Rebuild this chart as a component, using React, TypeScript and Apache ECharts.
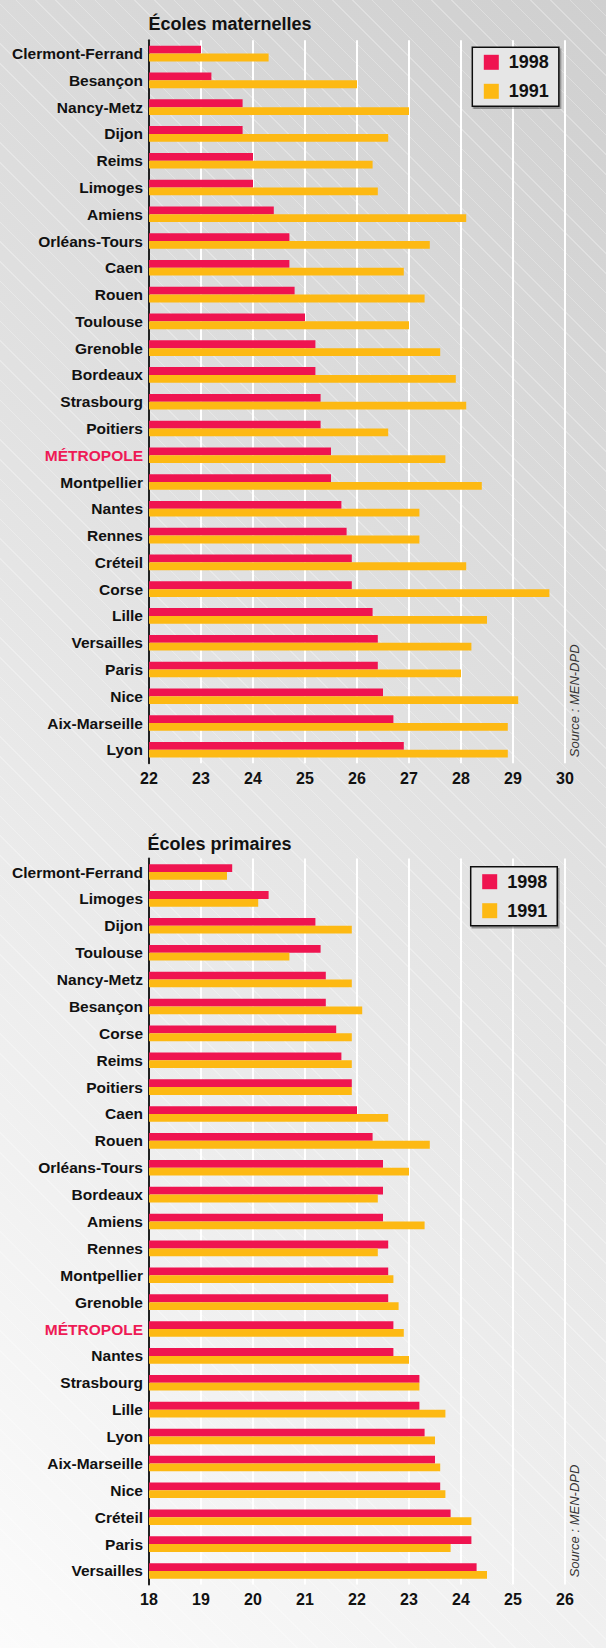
import React, { useEffect, useRef } from "react";
import * as echarts from "echarts";

const FONT = "'Liberation Sans', Arial, Helvetica, sans-serif";
const RED = "#ef1450";
const YELLOW = "#fdb913";

// Écoles maternelles
const matCategories = [
  "Clermont-Ferrand", "Besançon", "Nancy-Metz", "Dijon", "Reims", "Limoges", "Amiens",
  "Orléans-Tours", "Caen", "Rouen", "Toulouse", "Grenoble", "Bordeaux", "Strasbourg",
  "Poitiers", "MÉTROPOLE", "Montpellier", "Nantes", "Rennes", "Créteil", "Corse", "Lille",
  "Versailles", "Paris", "Nice", "Aix-Marseille", "Lyon",
];
const mat1998 = [
  23.0, 23.2, 23.8, 23.8, 24.0, 24.0, 24.4, 24.7, 24.7, 24.8, 25.0, 25.2, 25.2, 25.3,
  25.3, 25.5, 25.5, 25.7, 25.8, 25.9, 25.9, 26.3, 26.4, 26.4, 26.5, 26.7, 26.9,
];
const mat1991 = [
  24.3, 26.0, 27.0, 26.6, 26.3, 26.4, 28.1, 27.4, 26.9, 27.3, 27.0, 27.6, 27.9, 28.1,
  26.6, 27.7, 28.4, 27.2, 27.2, 28.1, 29.7, 28.5, 28.2, 28.0, 29.1, 28.9, 28.9,
];

// Écoles primaires
const priCategories = [
  "Clermont-Ferrand", "Limoges", "Dijon", "Toulouse", "Nancy-Metz", "Besançon", "Corse",
  "Reims", "Poitiers", "Caen", "Rouen", "Orléans-Tours", "Bordeaux", "Amiens", "Rennes",
  "Montpellier", "Grenoble", "MÉTROPOLE", "Nantes", "Strasbourg", "Lille", "Lyon",
  "Aix-Marseille", "Nice", "Créteil", "Paris", "Versailles",
];
const pri1998 = [
  19.6, 20.3, 21.2, 21.3, 21.4, 21.4, 21.6, 21.7, 21.9, 22.0, 22.3, 22.5, 22.5, 22.5,
  22.6, 22.6, 22.6, 22.7, 22.7, 23.2, 23.2, 23.3, 23.5, 23.6, 23.8, 24.2, 24.3,
];
const pri1991 = [
  19.5, 20.1, 21.9, 20.7, 21.9, 22.1, 21.9, 21.9, 21.9, 22.6, 23.4, 23.0, 22.4, 23.3,
  22.4, 22.7, 22.8, 22.9, 23.0, 23.2, 23.7, 23.5, 23.6, 23.7, 24.2, 23.8, 24.5,
];

const titles = ["Écoles maternelles", "Écoles primaires"];
const yearNames = ["1998", "1991"];
const xRanges = [
  [22, 30],
  [18, 26],
];
const sourceText = "Source : MEN-DPD";

function catData(cats: string[]) {
  return cats.map((c) =>
    c === "MÉTROPOLE" ? { value: c, textStyle: { color: "#ee1a55" } } : c
  );
}

export default function App() {
  const ref = useRef<HTMLDivElement>(null);

  useEffect(() => {
    if (!ref.current) return;
    const chart = echarts.init(ref.current, undefined, { renderer: "svg" });

    const grids = [
      { left: 149, top: 40.2, width: 416, height: 723 },
      { left: 149, top: 858.6, width: 416, height: 725.8 },
    ];

    const xAxis = [0, 1].map((i) => ({
      gridIndex: i,
      type: "value",
      min: xRanges[i][0],
      max: xRanges[i][1],
      interval: 1,
      axisLine: { show: false },
      axisTick: { show: false },
      splitLine: { show: true, lineStyle: { color: "#ffffff", width: 2 } },
      axisLabel: {
        margin: 7,
        fontSize: 16,
        fontWeight: "bold",
        color: "#111",
        fontFamily: FONT,
      },
    }));

    const yAxis = [matCategories, priCategories].map((cats, i) => ({
      gridIndex: i,
      type: "category",
      inverse: true,
      data: catData(cats),
      axisLine: { show: true, lineStyle: { color: "#222", width: 2 } },
      axisTick: { show: false },
      splitLine: { show: false },
      axisLabel: {
        margin: 6,
        fontSize: 15.5,
        fontWeight: "bold",
        color: "#111",
        fontFamily: FONT,
        padding: [0, 0, 3, 0],
      },
    }));

    const mk = (name: string, data: number[], idx: number, color: string) => ({
      type: "bar",
      name,
      xAxisIndex: idx,
      yAxisIndex: idx,
      data,
      barWidth: 7.8,
      barGap: "0%",
      itemStyle: { color },
    });

    const series = [
      mk(yearNames[0], mat1998, 0, RED),
      mk(yearNames[1], mat1991, 0, YELLOW),
      mk(yearNames[0], pri1998, 1, RED),
      mk(yearNames[1], pri1991, 1, YELLOW),
    ];

    const legendBase = {
      orient: "vertical",
      data: yearNames,
      icon: "rect",
      itemWidth: 15,
      itemHeight: 15,
      itemGap: 11,
      padding: [6, 10, 6, 11.5],
      backgroundColor: "#e6e6e6",
      borderColor: "#111",
      borderWidth: 1.5,
      shadowColor: "rgba(0,0,0,0.35)",
      shadowOffsetX: 1.5,
      shadowOffsetY: 2,
      shadowBlur: 1,
      selectedMode: false,
      textStyle: {
        fontSize: 18,
        fontWeight: "bold",
        color: "#111",
        fontFamily: FONT,
        padding: [0, 0, 0, 5],
      },
    };

    const option: any = {
      animation: false,
      grid: grids,
      xAxis,
      yAxis,
      series,
      legend: [
        { ...legendBase, left: 472.3, top: 47.3 },
        { ...legendBase, left: 470.7, top: 866.7 },
      ],
      graphic: [
        {
          type: "text",
          x: 148.5,
          y: 24,
          style: {
            text: titles[0],
            fill: "#111",
            fontSize: 18,
            fontWeight: "bold",
            fontFamily: FONT,
            textAlign: "left",
            textVerticalAlign: "middle",
          },
        },
        {
          type: "text",
          x: 147.5,
          y: 843.8,
          style: {
            text: titles[1],
            fill: "#111",
            fontSize: 18,
            fontWeight: "bold",
            fontFamily: FONT,
            textAlign: "left",
            textVerticalAlign: "middle",
          },
        },
        {
          type: "text",
          x: 574.7,
          y: 700.8,
          rotation: Math.PI / 2,
          style: {
            text: sourceText,
            fill: "#333",
            fontSize: 13,
            fontStyle: "italic",
            fontFamily: FONT,
            textAlign: "center",
            textVerticalAlign: "middle",
          },
        },
        {
          type: "text",
          x: 574.7,
          y: 1521,
          rotation: Math.PI / 2,
          style: {
            text: sourceText,
            fill: "#333",
            fontSize: 13,
            fontStyle: "italic",
            fontFamily: FONT,
            textAlign: "center",
            textVerticalAlign: "middle",
          },
        },
      ],
    };

    chart.setOption(option);
    return () => chart.dispose();
  }, []);

  return (
    <div
      style={{
        position: "absolute",
        left: 0,
        top: 0,
        width: 606,
        height: 1648,
        overflow: "hidden",
        background:
          "repeating-linear-gradient(45deg, rgba(255,255,255,0.28) 0px, rgba(255,255,255,0.28) 1px, rgba(255,255,255,0) 1px, rgba(255,255,255,0) 14px), linear-gradient(222deg, #cfcfcf 0%, #fbfbfb 100%)",
      }}
    >
      <div ref={ref} style={{ width: 606, height: 1648 }} />
    </div>
  );
}
